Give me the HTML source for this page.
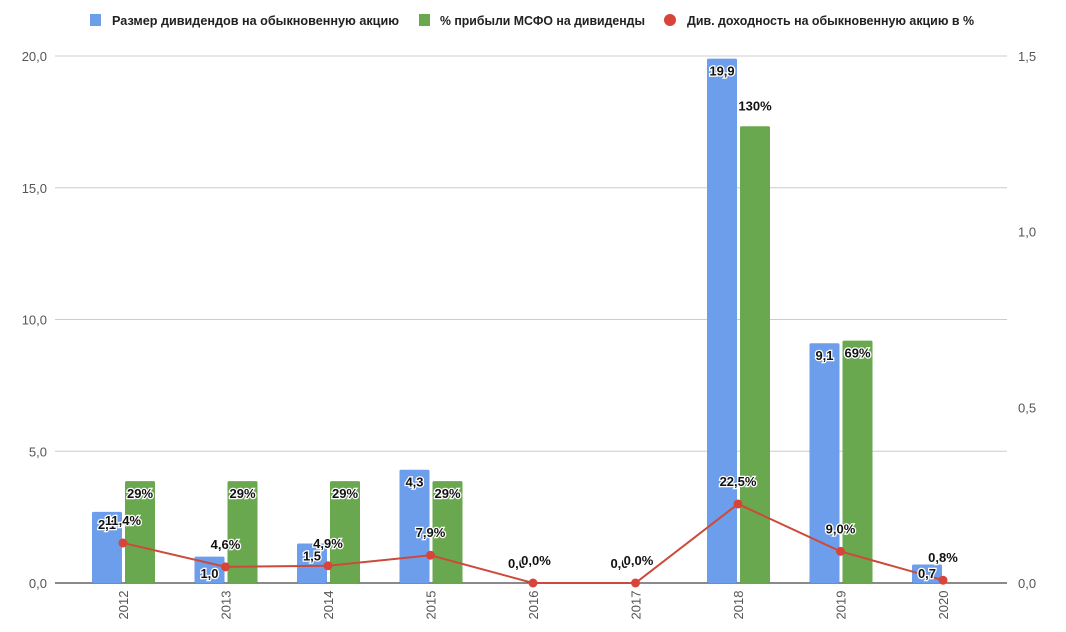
<!DOCTYPE html>
<html><head><meta charset="utf-8"><style>
body{margin:0;background:#fff;}
svg{display:block;font-family:"Liberation Sans",sans-serif;}
</style></head><body>
<svg id="chart" width="1066" height="632" viewBox="0 0 1066 632" xmlns="http://www.w3.org/2000/svg">
<g font-size="13" font-weight="bold" fill="#222">
 <rect x="90" y="14" width="11" height="12" fill="#6d9eeb"/>
 <text x="112" y="25" textLength="287" lengthAdjust="spacingAndGlyphs">Размер дивидендов на обыкновенную акцию</text>
 <rect x="419" y="14" width="11" height="12" fill="#6aa84f"/>
 <text x="440" y="25" textLength="205" lengthAdjust="spacingAndGlyphs">% прибыли МСФО на дивиденды</text>
 <circle cx="670" cy="20" r="6" fill="#d9443a"/>
 <text x="687" y="25" textLength="287" lengthAdjust="spacingAndGlyphs">Див. доходность на обыкновенную акцию в %</text>
</g>
<g id="axes"></g>
<g id="marks"></g>
<g id="labels"></g>
</svg>
<script>
const categories = ["2012","2013","2014","2015","2016","2017","2018","2019","2020"];
const dividend = [2.7, 1.0, 1.5, 4.3, 0, 0, 19.9, 9.1, 0.7];
const dividendLabels = ["2,1","1,0","1,5","4,3","0,0","0,0","19,9","9,1","0,7"];
const payout = [0.29, 0.29, 0.29, 0.29, 0, 0, 1.30, 0.69, 0];
const payoutLabels = ["29%","29%","29%","29%","","","130%","69%",""];
const yieldVals = [0.114, 0.046, 0.049, 0.079, 0, 0, 0.225, 0.09, 0.008];
const yieldLabels = ["11,4%","4,6%","4,9%","7,9%","0,0%","0,0%","22,5%","9,0%","0,8%"];
const leftTicks = [0, 5, 10, 15, 20];
const leftTickLabels = ["0,0","5,0","10,0","15,0","20,0"];
const rightTicks = [0, 0.5, 1.0, 1.5];
const rightTickLabels = ["0,0","0,5","1,0","1,5"];

const NS="http://www.w3.org/2000/svg";
const y0=583, yTop=56;
const yL=v=>y0-(v/20)*(y0-yTop);
const yR=v=>y0-(v/1.5)*(y0-yTop);
const xC=i=>123+i*102.5;
function mk(tag,attrs,parent,txt){const e=document.createElementNS(NS,tag);for(const k in attrs)e.setAttribute(k,attrs[k]);if(txt!==undefined)e.textContent=txt;parent.appendChild(e);return e;}
const axes=document.getElementById('axes'),marks=document.getElementById('marks'),labels=document.getElementById('labels');

leftTicks.forEach((t,i)=>{
  const l=mk('line',{x1:55,x2:1007,y1:yL(t),y2:yL(t),stroke:i===0?'#444':'#ccc','stroke-width':i===0?1.3:1},axes);
  
  
  const tx=mk('text',{x:47,y:yL(t)+5,'text-anchor':'end','font-size':13,fill:'#555'},axes,leftTickLabels[i]);
  
  
});
rightTicks.forEach((t,i)=>{
  const tx=mk('text',{x:1018,y:yR(t)+5,'font-size':13,fill:'#555'},axes,rightTickLabels[i]);
  
  
});
categories.forEach((c,i)=>{
  const tx=mk('text',{transform:`translate(${xC(i)+5},${y0+22}) rotate(-90)`,'font-size':13,fill:'#555','text-anchor':'middle'},axes,c);
  
  
});
categories.forEach((c,i)=>{
  if(dividend[i]>0){
    const r=mk('rect',{x:xC(i)-31,y:yL(dividend[i]),width:30,height:y0-yL(dividend[i]),fill:'#6d9eeb',rx:1.5},marks);
    
    
  }
  if(payout[i]>0){
    const r=mk('rect',{x:xC(i)+2,y:yR(payout[i]),width:30,height:y0-yR(payout[i]),fill:'#6aa84f',rx:1.5},marks);
    
    
  }
});
const pts=yieldVals.map((v,i)=>`${xC(i)},${yR(v)}`).join(' ');
const pl=mk('polyline',{points:pts,fill:'none',stroke:'#cc4a3a','stroke-width':2},marks);


yieldVals.forEach((v,i)=>{
  const d=mk('circle',{cx:xC(i),cy:yR(v),r:4.5,fill:'#d9443a'},marks);
  
  
});
const lab=(x,y,t,anchor,name)=>{
  const e=mk('text',{x:x,y:y,'text-anchor':anchor,'font-size':13,'font-weight':'bold',fill:'#111',stroke:'#fff','stroke-width':2.5,'paint-order':'stroke'},labels,t);
  
  
};
categories.forEach((c,i)=>{
  if(dividend[i]>0||i===4||i===5){
    const top=dividend[i]>0?yL(dividend[i]):y0;
    const yy=dividend[i]>1?top+17:(dividend[i]>0?y0-5:y0-15);
    lab(xC(i)-16,yy,dividendLabels[i],'middle','dividend-value-label');
  }
  if(payout[i]>0) lab(xC(i)+17,yR(payout[i])+ (payout[i]>1?-16:17),payoutLabels[i],'middle','payout-value-label');
  lab(xC(i)+ (i===4||i===5?3:0),yR(yieldVals[i])-18,yieldLabels[i],'middle','yield-value-label');
});
</script>
</body></html>
